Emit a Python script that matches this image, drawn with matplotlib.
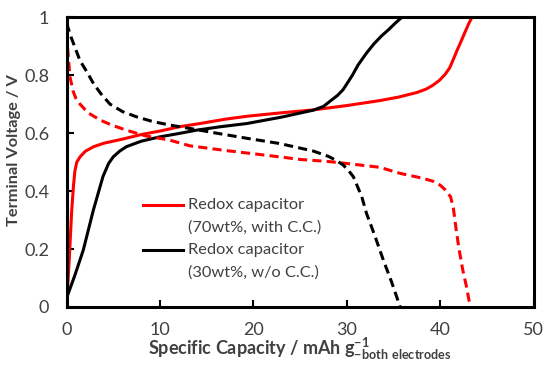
import matplotlib
matplotlib.use("Agg")
import matplotlib.pyplot as plt
from matplotlib.lines import Line2D

# --- data ---
red_chg_x = [0, 0.3, 0.55, 0.75, 0.9, 1.1, 1.45, 2.0, 2.9, 4.0, 6.1, 8, 10, 12.1, 14.3, 17, 19.3, 23, 26.4, 30,
             33.5, 35.5, 37.5, 38.5, 39.2, 39.9, 40.5, 41.0, 41.4, 41.8, 42.2, 42.6, 43.0, 43.4]
red_chg_y = [0, 0.17, 0.33, 0.42, 0.47, 0.5, 0.518, 0.537, 0.553, 0.565, 0.58, 0.595, 0.607, 0.622, 0.633, 0.648, 0.658, 0.67, 0.68, 0.695,
             0.712, 0.724, 0.74, 0.752, 0.765, 0.782, 0.802, 0.825, 0.855, 0.886, 0.915, 0.945, 0.975, 1.0]

blk_chg_x = [0, 0.9, 1.8, 2.87, 3.9, 4.5, 5.0, 5.7, 6.4, 8, 10, 12.1, 13.9, 16.5, 19.3, 23, 26.4, 27.5, 28.2, 29.0,
             29.6, 30.0, 30.6, 31.2, 32.1, 32.9, 33.7, 34.5, 35.2, 35.9]
blk_chg_y = [0.03, 0.11, 0.197, 0.334, 0.45, 0.495, 0.518, 0.538, 0.553, 0.572, 0.587, 0.599, 0.61, 0.622, 0.633, 0.655, 0.679, 0.692, 0.71, 0.73,
             0.75, 0.77, 0.8, 0.835, 0.876, 0.908, 0.935, 0.958, 0.98, 1.0]

red_dis_x = [0, 0.15, 0.37, 0.7, 1.0, 1.44, 2.3, 3.6, 4.8, 6.4, 8.5, 11, 13.2, 17, 22.8, 25, 28, 30, 33.5, 35.7,
             38, 39.2, 40.0, 40.6, 41.1, 41.4, 41.7, 42.0, 42.4, 42.8, 43.2]
red_dis_y = [0.944, 0.88, 0.794, 0.745, 0.72, 0.70, 0.67, 0.645, 0.628, 0.61, 0.59, 0.576, 0.556, 0.54, 0.518, 0.509, 0.502, 0.495, 0.482, 0.461,
             0.445, 0.434, 0.42, 0.402, 0.38, 0.34, 0.266, 0.2, 0.128, 0.07, 0.0]

blk_dis_x = [0, 0.5, 1.44, 2.2, 2.9, 3.7, 4.65, 6.0, 7.5, 9.2, 11, 13.2, 16, 19.3, 22.8, 26.4, 28.0, 28.9, 29.6, 30.2,
             30.7, 31.6, 32.1, 33.0, 33.9, 34.8, 35.7]
blk_dis_y = [0.98, 0.93, 0.85, 0.81, 0.77, 0.735, 0.70, 0.674, 0.656, 0.64, 0.628, 0.616, 0.6, 0.582, 0.564, 0.538, 0.52, 0.505, 0.49, 0.47,
             0.449, 0.38, 0.323, 0.245, 0.162, 0.085, 0.0]

xticks = [0, 10, 20, 30, 40, 50]
yticks = [0, 0.2, 0.4, 0.6, 0.8, 1.0]
ytick_labels = ["0", "0.2", "0.4", "0.6", "0.8", "1"]
legend_lines = [["Redox capacitor", "(70wt%, with C.C.)"], ["Redox capacitor", "(30wt%, w/o C.C.)"]]

plt.rcParams["font.family"] = ["Lato", "DejaVu Sans"]
plt.rcParams["mathtext.fontset"] = "custom"
plt.rcParams["mathtext.rm"] = "Lato"
plt.rcParams["mathtext.bf"] = "Lato:bold"

RED = "#ff0000"
TXT = "#404040"
DASH = (3, 1.7)

fig = plt.figure(figsize=(5.43, 3.65), dpi=100)
ax = fig.add_axes([0.1225, 0.159, 0.8605, 0.794])

ax.plot(red_chg_x, red_chg_y, color=RED, lw=2.2)
ax.plot(blk_chg_x, blk_chg_y, color="black", lw=2.2)
ax.plot(red_dis_x, red_dis_y, color=RED, lw=2.2, dashes=DASH)
ax.plot(blk_dis_x, blk_dis_y, color="black", lw=2.2, dashes=DASH)

ax.set_xlim(0, 50)
ax.set_ylim(0, 1)
ax.set_xticks(xticks)
ax.set_yticks(yticks)
ax.set_yticklabels(ytick_labels)
ax.tick_params(direction="in", length=5, width=1.5, labelsize=13, labelcolor=TXT)
ax.tick_params(axis="x", pad=10.5)
ax.tick_params(axis="y", pad=12.5)
for s in ax.spines.values():
    s.set_linewidth(2.2)

ax.set_ylabel("Terminal Voltage / V", fontsize=11.8, fontweight="bold", color=TXT)
ax.yaxis.set_label_coords(-0.097, 0.541)
ax.set_xlabel(r"Specific Capacity / mAh g$^{\mathbf{-1}}_{\mathbf{-both\ electrodes}}$",
              fontsize=13, fontweight="bold", color=TXT, labelpad=-1)

# hand-built legend: handle sits on the first text line of each entry
for col, lines, y0 in [(RED, legend_lines[0], 0.352), ("black", legend_lines[1], 0.197)]:
    ax.add_line(Line2D([0.164, 0.249], [y0, y0], color=col, lw=2.2, transform=ax.transAxes))
    ax.text(0.259, y0, lines[0], transform=ax.transAxes, fontsize=11.8, color=TXT, va="center")
    ax.text(0.259, y0 - 0.079, lines[1], transform=ax.transAxes, fontsize=11.8, color=TXT, va="center")

fig.savefig("out.png", dpi=100)
